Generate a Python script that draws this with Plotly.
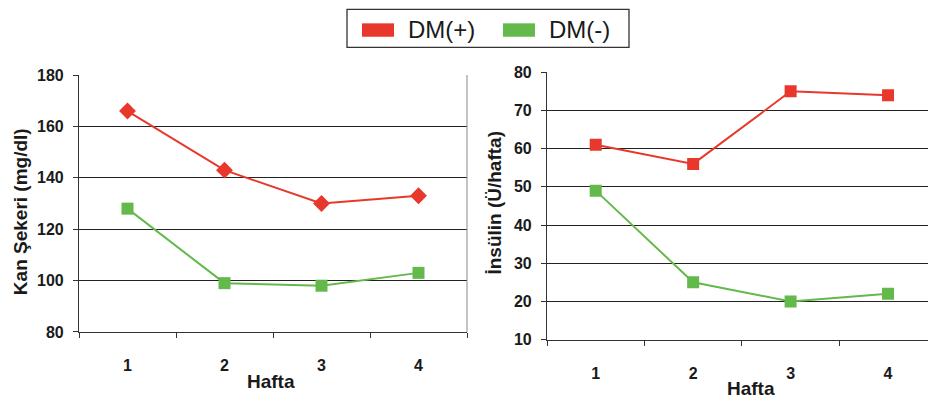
import plotly.graph_objects as go

weeks = [1, 2, 3, 4]
week_labels = ["1", "2", "3", "4"]
glucose_dm_pos = [166, 143, 130, 133]
glucose_dm_neg = [128, 99, 98, 103]
insulin_dm_pos = [61, 56, 75, 74]
insulin_dm_neg = [49, 25, 20, 22]
series_names = ["DM(+)", "DM(-)"]

RED = "#E8382B"
GREEN = "#63B94A"
FONT = "Liberation Sans, Arial, sans-serif"
TXT = "#1a1a1a"

fig = go.Figure()

# Left chart
fig.add_trace(go.Scatter(x=weeks, y=glucose_dm_pos, mode="lines+markers", name=series_names[0],
                         line=dict(color=RED, width=2), marker=dict(symbol="diamond", size=13, color=RED),
                         xaxis="x", yaxis="y", showlegend=False))
fig.add_trace(go.Scatter(x=weeks, y=glucose_dm_neg, mode="lines+markers", name=series_names[1],
                         line=dict(color=GREEN, width=2), marker=dict(symbol="square", size=12, color=GREEN),
                         xaxis="x", yaxis="y", showlegend=False))
# Right chart
fig.add_trace(go.Scatter(x=weeks, y=insulin_dm_pos, mode="lines+markers", name=series_names[0],
                         line=dict(color=RED, width=2), marker=dict(symbol="square", size=12, color=RED),
                         xaxis="x2", yaxis="y2", showlegend=False))
fig.add_trace(go.Scatter(x=weeks, y=insulin_dm_neg, mode="lines+markers", name=series_names[1],
                         line=dict(color=GREEN, width=2), marker=dict(symbol="square", size=12, color=GREEN),
                         xaxis="x2", yaxis="y2", showlegend=False))

W, H = 928, 409
def px(x): return x / W
def py(y): return 1 - y / H

tickfont = dict(family=FONT, size=16, color=TXT, weight="bold")

xcommon = dict(tickvals=weeks, ticktext=week_labels, ticks="", showgrid=False, zeroline=False,
               showline=True, linecolor="#333", linewidth=1.2, tickfont=tickfont, ticklabelstandoff=19,
               minor=dict(tickvals=[0.5, 1.5, 2.5, 3.5, 4.5], ticks="outside", ticklen=5,
                          tickcolor="#333", showgrid=False))
ycommon = dict(showgrid=True, gridcolor="#222", gridwidth=1, zeroline=False, showline=True,
               linecolor="#333", linewidth=1.2, ticks="outside", ticklen=5, tickcolor="#333",
               tickfont=tickfont, ticklabelstandoff=6)

fig.update_layout(
    width=W, height=H, margin=dict(l=0, r=0, t=0, b=0),
    paper_bgcolor="white", plot_bgcolor="white",
    xaxis=dict(domain=[px(79), px(467)], range=[0.5, 4.5], anchor="y", **xcommon),
    yaxis=dict(domain=[py(338), py(70)], range=[80, 180], dtick=20, anchor="x", **ycommon),
    xaxis2=dict(domain=[px(547), 1.0], range=[0.5, 4.41], anchor="y2", **xcommon),
    yaxis2=dict(domain=[py(346), py(67)], range=[10, 80], dtick=10, anchor="x2", **ycommon),
)

shapes = [
    # plot area border (right side of left chart)
    dict(type="line", xref="paper", yref="paper", x0=px(467), x1=px(467), y0=py(338), y1=py(70),
         line=dict(color="#888", width=1)),
    # legend box
    dict(type="rect", xref="paper", yref="paper", x0=px(347), x1=px(629), y0=py(41), y1=py(1.5),
         line=dict(color="#333", width=1.3), fillcolor="white"),
    dict(type="rect", xref="paper", yref="paper", x0=px(362), x1=px(394), y0=py(30), y1=py(16),
         line=dict(width=0), fillcolor=RED),
    dict(type="rect", xref="paper", yref="paper", x0=px(503), x1=px(535), y0=py(30), y1=py(16),
         line=dict(width=0), fillcolor=GREEN),
]

annotations = [
    dict(text=series_names[0], x=px(406), y=py(22), xref="paper", yref="paper", xanchor="left",
         yanchor="middle", showarrow=False, font=dict(family=FONT, size=24, color=TXT)),
    dict(text=series_names[1], x=px(547), y=py(22), xref="paper", yref="paper", xanchor="left",
         yanchor="middle", showarrow=False, font=dict(family=FONT, size=24, color=TXT)),
    dict(text="Kan Şekeri (mg/dl)", x=px(20), y=py(213), xref="paper", yref="paper",
         xanchor="center", yanchor="middle", textangle=-90, showarrow=False,
         font=dict(family=FONT, size=19, color=TXT, weight="bold")),
    dict(text="İnsülin (Ü/hafta)", x=px(495), y=py(203), xref="paper", yref="paper",
         xanchor="center", yanchor="middle", textangle=-90, showarrow=False,
         font=dict(family=FONT, size=19, color=TXT, weight="bold")),
    dict(text="Hafta", x=px(271), y=py(390), xref="paper", yref="paper", xanchor="center",
         yanchor="middle", showarrow=False, font=dict(family=FONT, size=19, color=TXT, weight="bold")),
    dict(text="Hafta", x=px(751), y=py(397), xref="paper", yref="paper", xanchor="center",
         yanchor="middle", showarrow=False, font=dict(family=FONT, size=19, color=TXT, weight="bold")),
]

fig.update_layout(shapes=shapes, annotations=annotations)
fig.write_html("out.html")
